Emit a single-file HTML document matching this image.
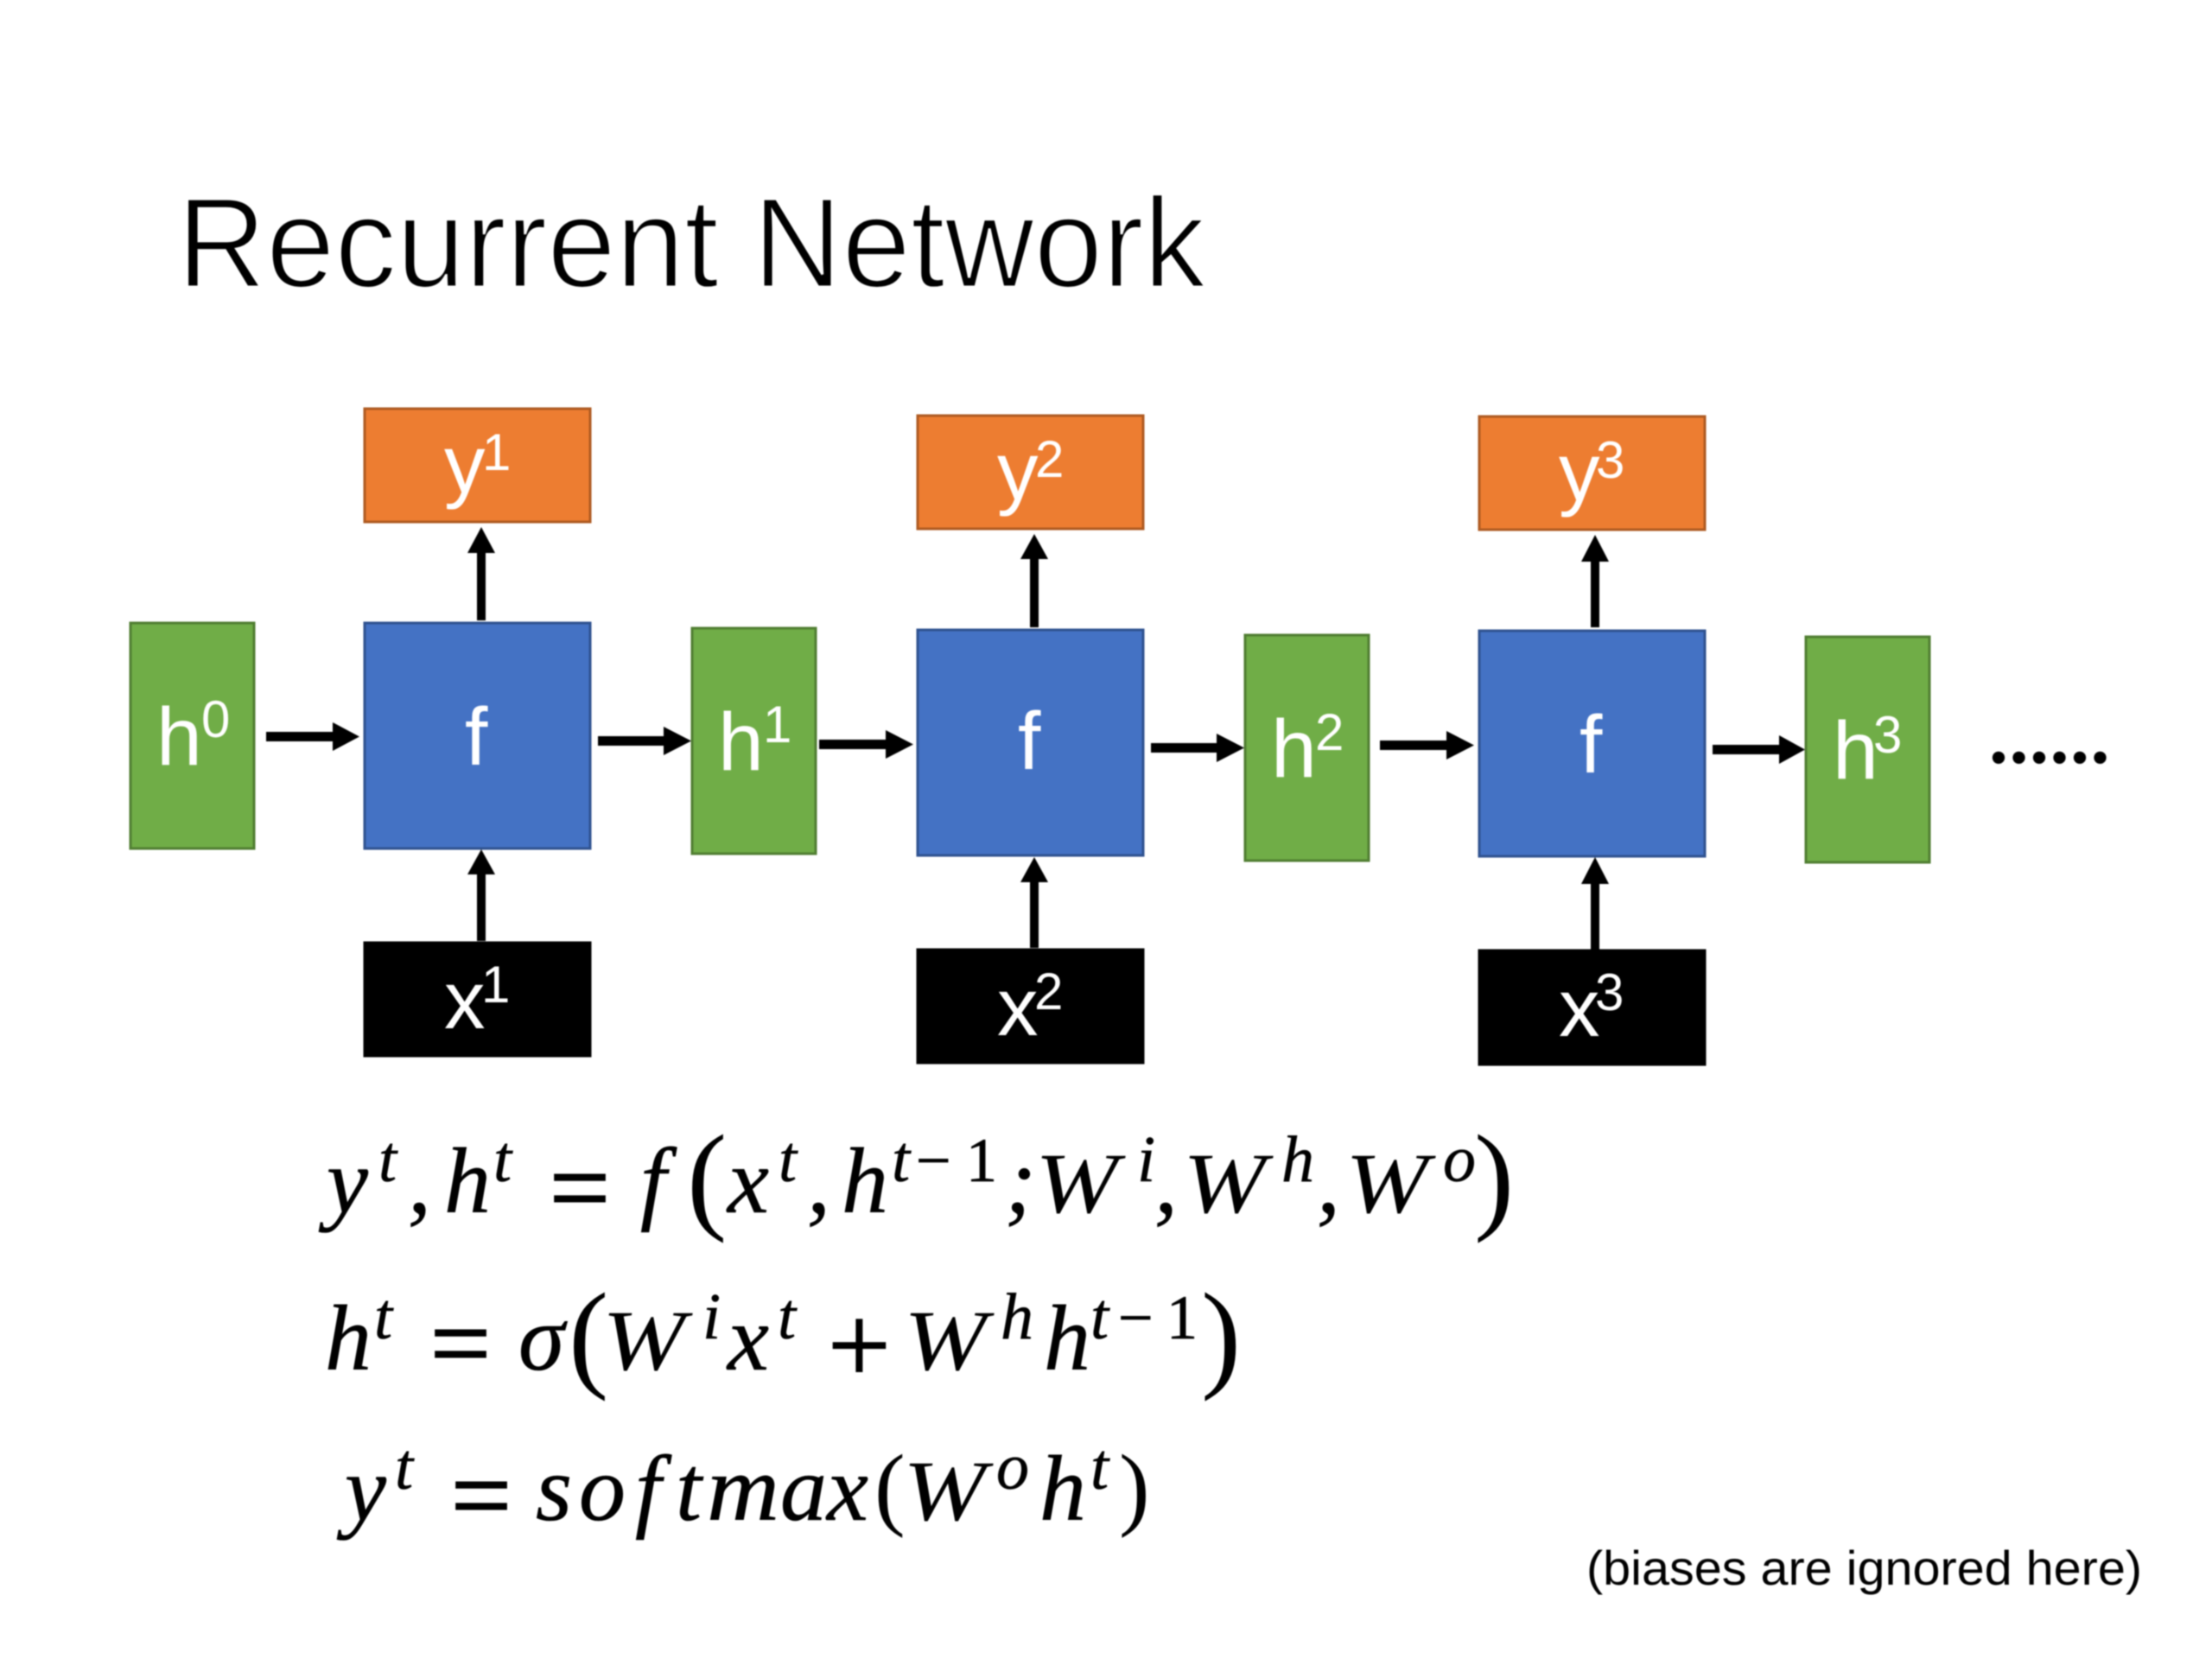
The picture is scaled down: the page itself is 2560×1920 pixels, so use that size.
<!DOCTYPE html>
<html><head><meta charset="utf-8"><style>
html,body{margin:0;padding:0;background:#fff;width:2560px;height:1920px;overflow:hidden}
svg{display:block;filter:blur(.7px)}
.l{font-family:"Liberation Sans",sans-serif;fill:#fff;font-size:95px}
.s{font-family:"Liberation Sans",sans-serif;fill:#fff;font-size:60px}
.m{font-family:"Liberation Serif",serif;font-style:italic;font-size:108px;fill:#000;stroke:#000;stroke-width:.6px}
.w{font-family:"Liberation Serif",serif;font-style:italic;font-size:100px;fill:#000}
.u{font-family:"Liberation Serif",serif;font-style:italic;font-size:76px;fill:#000;stroke:#000;stroke-width:.5px}
.n{font-family:"Liberation Serif",serif;font-size:102px;fill:#000}
.b{font-family:"Liberation Serif",serif;font-size:139px;fill:#000}
.p{font-family:"Liberation Serif",serif;font-size:107px;fill:#000}
.plus{font-family:"Liberation Serif",serif;font-size:129px;fill:#000;stroke:#000;stroke-width:1.5px}
.e{font-family:"Liberation Serif",serif;font-size:124px;fill:#000;stroke:#000;stroke-width:2px}
.k{font-family:"Liberation Serif",serif;font-size:72px;fill:#000;stroke:#000;stroke-width:.8px}
</style></head><body>
<svg width="2560" height="1920" viewBox="0 0 2560 1920" xmlns="http://www.w3.org/2000/svg">
<rect width="2560" height="1920" fill="#fff"/>
<text x="205" y="332" font-family="Liberation Sans,sans-serif" font-size="148" fill="#000" stroke="#fff" stroke-width="3" textLength="1190" lengthAdjust="spacingAndGlyphs">Recurrent Network</text>

<g stroke-width="3">
<g fill="#70AD47" stroke="#507E32">
<rect x="151" y="721" width="143" height="261"/>
<rect x="801" y="727" width="143" height="261"/>
<rect x="1441" y="735" width="143" height="261"/>
<rect x="2090" y="737" width="143" height="261"/>
</g>
<g fill="#4472C4" stroke="#2F528F">
<rect x="422" y="721" width="261" height="261"/>
<rect x="1062" y="729" width="261" height="261"/>
<rect x="1712" y="730" width="261" height="261"/>
</g>
<g fill="#ED7D31" stroke="#AE5A21">
<rect x="422" y="473" width="261" height="131"/>
<rect x="1062" y="481" width="261" height="131"/>
<rect x="1712" y="482" width="261" height="131"/>
</g>
<g fill="#000" stroke="#000">
<rect x="422" y="1091" width="261" height="131"/>
<rect x="1062" y="1099" width="261" height="131"/>
<rect x="1712" y="1100" width="261" height="132"/>
</g>
</g>

<g fill="#000">
<polygon points="308,847 385,847 385,836 416,852.500 385,869 385,858 308,858"/>
<polygon points="692,852 768,852 768,841 800,857.500 768,874 768,863 692,863"/>
<polygon points="948,856 1025,856 1025,845 1057,861.500 1025,878 1025,867 948,867"/>
<polygon points="1332,860 1408,860 1408,849 1440,865.500 1408,882 1408,871 1332,871"/>
<polygon points="1597,857 1674,857 1674,846 1706,862.500 1674,879 1674,868 1597,868"/>
<polygon points="1982,862 2059,862 2059,851 2089,867.500 2059,884 2059,873 1982,873"/>
<polygon points="552,718 552,640 541,640 557,610 573,640 562,640 562,718"/>
<polygon points="552,1089 552,1012 541,1012 557,983 573,1012 562,1012 562,1089"/>
<polygon points="1192,726 1192,647 1181,647 1197,618 1213,647 1202,647 1202,726"/>
<polygon points="1192,1097 1192,1021 1181,1021 1197,992 1213,1021 1202,1021 1202,1097"/>
<polygon points="1841,726 1841,650 1830,650 1846,619 1862,650 1851,650 1851,726"/>
<polygon points="1841,1099 1841,1023 1830,1023 1846,992 1862,1023 1851,1023 1851,1099"/>
</g>

<text class="l" x="181" y="885">h</text><text class="s" x="233" y="853">0</text>
<text class="l" x="538" y="885">f</text>
<text class="l" x="514" y="570">y</text><text class="s" x="558" y="544">1</text>
<text class="l" x="514" y="1190">x</text><text class="s" x="557" y="1160">1</text>
<text class="l" x="831" y="891">h</text><text class="s" x="883" y="859">1</text>
<text class="l" x="1178" y="890">f</text>
<text class="l" x="1154" y="578">y</text><text class="s" x="1198" y="552">2</text>
<text class="l" x="1154" y="1198">x</text><text class="s" x="1197" y="1168">2</text>
<text class="l" x="1471" y="899">h</text><text class="s" x="1522" y="868">2</text>
<text class="l" x="1828" y="894">f</text>
<text class="l" x="1804" y="579">y</text><text class="s" x="1847" y="553">3</text>
<text class="l" x="1804" y="1199">x</text><text class="s" x="1846" y="1169">3</text>
<text class="l" x="2121" y="901">h</text><text class="s" x="2168" y="871">3</text>

<text x="2302" y="883" font-family="Liberation Serif,serif" font-weight="bold" font-size="88" fill="#000" letter-spacing="1.500">......</text>

<!-- line 1 -->
<text class="m" x="378" y="1403">y</text><text class="u" x="438" y="1367">t</text><text class="m" x="472" y="1403">,</text>
<text class="m" x="514" y="1403">h</text><text class="u" x="571" y="1367">t</text>
<text class="e" x="636" y="1416">=</text>
<text class="m" x="741" y="1403">f</text>
<text class="b" x="795" y="1409">(</text>
<text class="m" x="842" y="1403">x</text><text class="u" x="901" y="1367">t</text><text class="m" x="934" y="1403">,</text>
<text class="m" x="974" y="1403">h</text><text class="u" x="1032" y="1367">t</text><text class="k" x="1060" y="1367">−</text><text class="k" x="1118" y="1367">1</text>
<text class="m" x="1163" y="1403">;</text>
<text class="w" x="1198" y="1403" textLength="96" lengthAdjust="spacingAndGlyphs">W</text><text class="u" x="1316" y="1367">i</text><text class="m" x="1336" y="1403">,</text>
<text class="w" x="1369" y="1403" textLength="96" lengthAdjust="spacingAndGlyphs">W</text><text class="u" x="1483" y="1367">h</text><text class="m" x="1524" y="1403">,</text>
<text class="w" x="1557" y="1403" textLength="96" lengthAdjust="spacingAndGlyphs">W</text><text class="u" x="1670" y="1367">o</text>
<text class="b" x="1706" y="1409">)</text>

<!-- line 2 -->
<text class="m" x="376" y="1585">h</text><text class="u" x="433" y="1549">t</text>
<text class="e" x="498" y="1596">=</text>
<text class="m" x="600" y="1585">σ</text>
<text class="b" x="658" y="1592">(</text>
<text class="w" x="697" y="1585" textLength="96" lengthAdjust="spacingAndGlyphs">W</text><text class="u" x="813" y="1549">i</text>
<text class="m" x="842" y="1585">x</text><text class="u" x="900" y="1549">t</text>
<text class="plus" x="958" y="1600">+</text>
<text class="w" x="1046" y="1585" textLength="96" lengthAdjust="spacingAndGlyphs">W</text><text class="u" x="1158" y="1549">h</text>
<text class="m" x="1208" y="1585">h</text><text class="u" x="1262" y="1549">t</text><text class="k" x="1294" y="1549">−</text><text class="k" x="1350" y="1549">1</text>
<text class="b" x="1390" y="1592">)</text>

<!-- line 3 -->
<text class="m" x="399" y="1759">y</text><text class="u" x="457" y="1723">t</text>
<text class="e" x="522" y="1772">=</text>
<text class="m" x="620" y="1759">s</text><text class="m" x="670" y="1759">o</text><text class="m" x="735" y="1759">f</text><text class="m" x="782" y="1759">t</text><text class="m" x="818" y="1759" textLength="84" lengthAdjust="spacingAndGlyphs">m</text><text class="m" x="903" y="1759">a</text><text class="m" x="957" y="1759">x</text>
<text class="p" x="1012" y="1757">(</text>
<text class="w" x="1045" y="1759" textLength="96" lengthAdjust="spacingAndGlyphs">W</text><text class="u" x="1153" y="1723">o</text>
<text class="m" x="1203" y="1759">h</text><text class="u" x="1262" y="1723">t</text>
<text class="p" x="1295" y="1757">)</text>

<text x="1836" y="1834" font-family="Liberation Sans,sans-serif" font-size="56" fill="#000" textLength="643" lengthAdjust="spacingAndGlyphs">(biases are ignored here)</text>
</svg>
</body></html>
